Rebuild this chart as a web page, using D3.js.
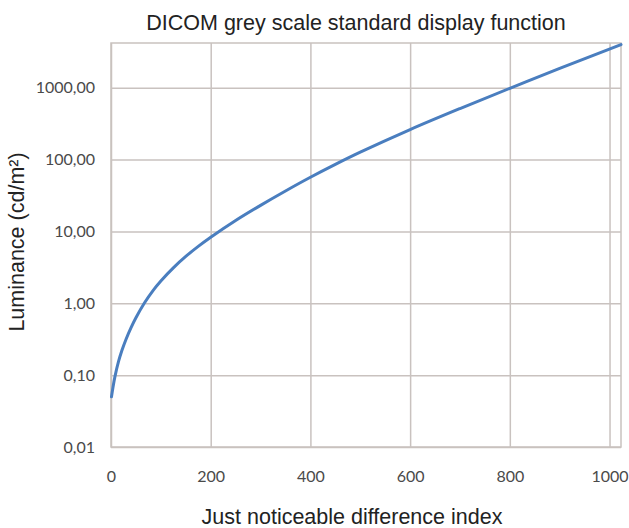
<!DOCTYPE html>
<html>
<head>
<meta charset="utf-8">
<script src="https://cdn.jsdelivr.net/npm/d3@7"></script>
<style>
  html, body { margin: 0; padding: 0; background: #ffffff; }
  svg { display: block; }
</style>
</head>
<body>
<svg id="chart" width="629" height="528"></svg>
<script>
// Just noticeable difference index (x) and luminance in cd/m² (y)
const jndIndex  = [1, 4, 8, 15, 22, 30, 40, 50, 67, 85, 100, 125, 150, 175, 200, 250, 300, 350, 400, 450, 500, 600, 700, 800, 900, 1023];
const luminance = [0.05, 0.068, 0.096, 0.154, 0.222, 0.314, 0.455, 0.63, 1.01, 1.53, 2.05, 3.12, 4.49, 6.19, 8.3, 14.2, 23.1, 36.6, 56.8, 85.9, 127, 262, 514, 984, 1862, 3990];

const xTicks = [0, 200, 400, 600, 800, 1000];
const yTicks = [0.01, 0.1, 1, 10, 100, 1000];
const yTickLabels = ["0,01", "0,10", "1,00", "10,00", "100,00", "1000,00"];

const xDomain = [0, 1023];
const yDomain = [0.01, 4200];

const titleText = "DICOM grey scale standard display function";
const xLabelText = "Just noticeable difference index";
const yLabelText = "Luminance (cd/m²)";

const margin = { left: 111, right: 8, top: 43, bottom: 81 };
const W = 629, H = 528;

const svg = d3.select("#chart");

const x = d3.scaleLinear().domain(xDomain).range([margin.left, W - margin.right]);
const y = d3.scaleLog().domain(yDomain).range([H - margin.bottom, margin.top]);

const gridColor = "#c9c2bf";

// vertical gridlines
svg.append("g")
  .attr("transform", `translate(0,${H - margin.bottom})`)
  .call(d3.axisBottom(x).tickValues(xTicks).tickSize(-(H - margin.bottom - margin.top)).tickFormat(""))
  .call(g => g.select(".domain").remove())
  .call(g => g.selectAll("line").attr("stroke", gridColor).attr("stroke-width", 1.5));

// horizontal gridlines
svg.append("g")
  .attr("transform", `translate(${margin.left},0)`)
  .call(d3.axisLeft(y).tickValues(yTicks).tickSize(-(W - margin.left - margin.right)).tickFormat(""))
  .call(g => g.select(".domain").remove())
  .call(g => g.selectAll("line").attr("stroke", gridColor).attr("stroke-width", 1.5));

// plot frame
svg.append("rect")
  .attr("x", x(xDomain[0]))
  .attr("y", y(yDomain[1]))
  .attr("width", x(xDomain[1]) - x(xDomain[0]))
  .attr("height", y(yDomain[0]) - y(yDomain[1]))
  .attr("fill", "none")
  .attr("stroke", gridColor)
  .attr("stroke-width", 1.5);

// x tick labels
svg.append("g")
  .attr("transform", `translate(0,${H - margin.bottom})`)
  .call(d3.axisBottom(x).tickValues(xTicks).tickSize(0).tickPadding(24).tickFormat(d3.format("d")))
  .call(g => g.select(".domain").remove())
  .call(g => g.selectAll("text")
    .attr("font-family", "Lato, sans-serif")
    .attr("font-size", 16)
    .attr("fill", "#4a4a4a"));

// y tick labels
svg.append("g")
  .attr("transform", `translate(${margin.left},0)`)
  .call(d3.axisLeft(y).tickValues(yTicks).tickSize(0).tickPadding(16)
    .tickFormat((d, i) => yTickLabels[i]))
  .call(g => g.select(".domain").remove())
  .call(g => g.selectAll("text")
    .attr("font-family", "Lato, sans-serif")
    .attr("font-size", 16)
    .attr("fill", "#4a4a4a"));

// luminance curve
const points = jndIndex.map((j, i) => [j, luminance[i]]);
svg.append("path")
  .datum(points)
  .attr("fill", "none")
  .attr("stroke", "#4a7ebf")
  .attr("stroke-width", 3)
  .attr("stroke-linecap", "round")
  .attr("d", d3.line().x(d => x(d[0])).y(d => y(d[1])).curve(d3.curveCatmullRom));

// title
svg.append("text")
  .attr("x", 356)
  .attr("y", 30)
  .attr("text-anchor", "middle")
  .attr("font-family", "'Liberation Sans', Arial, sans-serif")
  .attr("font-size", 21.5)
  .attr("fill", "#222")
  .text(titleText);

// x axis label
svg.append("text")
  .attr("x", 352)
  .attr("y", 524)
  .attr("text-anchor", "middle")
  .attr("font-family", "'Liberation Sans', Arial, sans-serif")
  .attr("font-size", 21.5)
  .attr("fill", "#222")
  .text(xLabelText);

// y axis label
svg.append("text")
  .attr("transform", "translate(24,242) rotate(-90)")
  .attr("text-anchor", "middle")
  .attr("font-family", "'Liberation Sans', Arial, sans-serif")
  .attr("font-size", 21.5)
  .attr("fill", "#222")
  .text(yLabelText);
</script>
</body>
</html>
